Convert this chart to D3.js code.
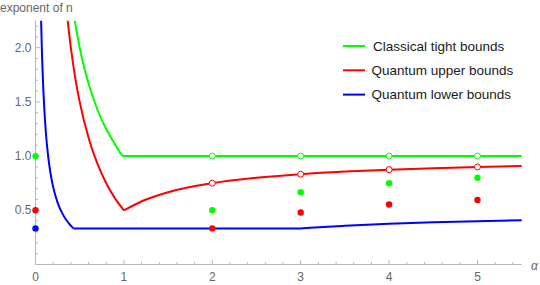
<!DOCTYPE html>
<html lang="en">
<head>
  <meta charset="UTF-8">
  <title>exponent of n</title>
  <script src="https://cdn.jsdelivr.net/npm/d3@7"></script>
  <style>
    body { margin: 0; background: #fff; }
    text { font-family: "Liberation Sans", Arial, sans-serif; }
  </style>
</head>
<body>
  <div id="main" style="width:540px;height:285px"></div>
  <script>
    // data
    var seriesNames = ["Classical tight bounds", "Quantum upper bounds", "Quantum lower bounds"];
    var seriesColors = ["#00ff00", "#ff0000", "#0000ff"];

    var classicalX = [0.444, 0.5, 0.55, 0.6, 0.7, 0.8, 0.9, 1.0, 5.5];
    var classicalY = [2.25, 2.0, 1.82, 1.67, 1.43, 1.25, 1.11, 1.0, 1.0];

    var upperLeftX = [0.364, 0.4, 0.45, 0.5, 0.6, 0.7, 0.8, 0.9, 1.0];
    var upperLeftY = [2.25, 2.0, 1.72, 1.5, 1.17, 0.93, 0.75, 0.61, 0.5];
    var upperRightX = [1.0, 1.25, 1.5, 2.0, 2.5, 3.0, 3.5, 4.0, 4.5, 5.0, 5.5];
    var upperRightY = [0.5, 0.6, 0.667, 0.75, 0.8, 0.833, 0.857, 0.875, 0.889, 0.9, 0.909];

    var lowerLeftX = [0.0635, 0.0714, 0.08, 0.1, 0.12, 0.143, 0.17, 0.2, 0.25, 0.3, 0.35, 0.4286];
    var lowerLeftY = [2.25, 2.0, 1.786, 1.429, 1.19, 1.0, 0.84, 0.714, 0.571, 0.476, 0.408, 0.333];
    var lowerRightX = [0.4286, 3.0, 3.25, 3.5, 4.0, 4.5, 5.0, 5.5];
    var lowerRightY = [0.333, 0.333, 0.346, 0.357, 0.375, 0.389, 0.4, 0.409];

    // filled points
    var classicalDotX = [0, 2, 3, 4, 5];
    var classicalDotY = [1.0, 0.5, 0.667, 0.75, 0.8];
    var upperDotX = [0, 2, 3, 4, 5];
    var upperDotY = [0.5, 0.333, 0.48, 0.553, 0.596];
    var lowerDotX = [0];
    var lowerDotY = [0.333];

    // open points
    var classicalOpenX = [2, 3, 4, 5];
    var classicalOpenY = [1, 1, 1, 1];
    var upperOpenX = [2, 3, 4, 5];
    var upperOpenY = [0.75, 0.833, 0.875, 0.9];

    var xTicks = [0, 1, 2, 3, 4, 5];
    var yTicks = [0.5, 1.0, 1.5, 2.0];

    var width = 540, height = 285;
    var svg = d3.select("#main").append("svg")
      .attr("width", width)
      .attr("height", height);

    var x = d3.scaleLinear().domain([0, 5.5]).range([35.5, 521.7]);
    var y = d3.scaleLinear().domain([0, 2.25]).range([264.5, 20.6]);

    var axisColor = "#b8b8b8";
    var labelColor = "#666";

    // minor ticks
    var xMinor = d3.range(0, 5.5001, 0.2).filter(function (v) { return Math.abs(v - Math.round(v)) > 1e-6; });
    var yMinor = d3.range(0.1, 2.2501, 0.1).filter(function (v) { return Math.abs(v * 2 - Math.round(v * 2)) > 1e-6; });

    var ax = svg.append("g").attr("class", "axes");
    ax.append("line")
      .attr("x1", x(0)).attr("x2", x(5.5))
      .attr("y1", y(0)).attr("y2", y(0))
      .attr("stroke", axisColor);
    ax.append("line")
      .attr("x1", x(0)).attr("x2", x(0))
      .attr("y1", y(0)).attr("y2", y(2.25))
      .attr("stroke", axisColor);

    ax.selectAll(".xmaj").data(xTicks).enter().append("line")
      .attr("x1", function (d) { return x(d); }).attr("x2", function (d) { return x(d); })
      .attr("y1", y(0)).attr("y2", y(0) - 4.5)
      .attr("stroke", axisColor);
    ax.selectAll(".xmin").data(xMinor).enter().append("line")
      .attr("x1", function (d) { return x(d); }).attr("x2", function (d) { return x(d); })
      .attr("y1", y(0)).attr("y2", y(0) - 2.5)
      .attr("stroke", axisColor);
    ax.selectAll(".ymaj").data(yTicks).enter().append("line")
      .attr("x1", x(0)).attr("x2", x(0) + 4.5)
      .attr("y1", function (d) { return y(d); }).attr("y2", function (d) { return y(d); })
      .attr("stroke", axisColor);
    ax.selectAll(".ymin").data(yMinor).enter().append("line")
      .attr("x1", x(0)).attr("x2", x(0) + 2.5)
      .attr("y1", function (d) { return y(d); }).attr("y2", function (d) { return y(d); })
      .attr("stroke", axisColor);

    ax.selectAll(".xlab").data(xTicks).enter().append("text")
      .attr("x", function (d) { return x(d); })
      .attr("y", 281)
      .attr("text-anchor", "middle")
      .attr("font-size", 12)
      .attr("fill", labelColor)
      .text(function (d) { return d; });
    ax.selectAll(".ylab").data(yTicks).enter().append("text")
      .attr("x", x(0) - 4)
      .attr("y", function (d) { return y(d) + 4; })
      .attr("text-anchor", "end")
      .attr("font-size", 12)
      .attr("fill", labelColor)
      .text(function (d) { return d.toFixed(1); });

    svg.append("text")
      .attr("x", 0).attr("y", 12)
      .attr("font-size", 12)
      .attr("fill", labelColor)
      .text("exponent of n");
    svg.append("text")
      .attr("x", 531).attr("y", 270)
      .attr("font-size", 12)
      .attr("font-style", "italic")
      .attr("fill", labelColor)
      .text("α");

    // curves
    svg.append("clipPath").attr("id", "plotClip")
      .append("rect").attr("x", x(0)).attr("y", y(2.25)).attr("width", x(5.5) - x(0) + 1).attr("height", y(0) - y(2.25));

    var line = d3.line()
      .x(function (d) { return x(d[0]); })
      .y(function (d) { return y(d[1]); })
      .curve(d3.curveMonotoneX);

    function pairs(xs, ys) { return xs.map(function (v, i) { return [v, ys[i]]; }); }

    var curves = [
      { pts: pairs(classicalX, classicalY), c: 0 },
      { pts: pairs(upperLeftX, upperLeftY), c: 1 },
      { pts: pairs(upperRightX, upperRightY), c: 1 },
      { pts: pairs(lowerLeftX, lowerLeftY), c: 2 },
      { pts: pairs(lowerRightX, lowerRightY), c: 2 }
    ];

    svg.append("g").attr("clip-path", "url(#plotClip)")
      .selectAll("path").data(curves).enter().append("path")
      .attr("d", function (d) { return line(d.pts); })
      .attr("fill", "none")
      .attr("stroke", function (d) { return seriesColors[d.c]; })
      .attr("stroke-width", 2);

    // dots
    var dots = [];
    classicalDotX.forEach(function (v, i) { dots.push({ x: v, y: classicalDotY[i], c: 0 }); });
    upperDotX.forEach(function (v, i) { dots.push({ x: v, y: upperDotY[i], c: 1 }); });
    lowerDotX.forEach(function (v, i) { dots.push({ x: v, y: lowerDotY[i], c: 2 }); });

    svg.append("g").selectAll("circle").data(dots).enter().append("circle")
      .attr("cx", function (d) { return x(d.x); })
      .attr("cy", function (d) { return y(d.y); })
      .attr("r", 3.2)
      .attr("fill", function (d) { return seriesColors[d.c]; });

    var openPts = [];
    classicalOpenX.forEach(function (v, i) { openPts.push({ x: v, y: classicalOpenY[i], c: 0 }); });
    upperOpenX.forEach(function (v, i) { openPts.push({ x: v, y: upperOpenY[i], c: 1 }); });

    svg.append("g").selectAll("circle").data(openPts).enter().append("circle")
      .attr("cx", function (d) { return x(d.x); })
      .attr("cy", function (d) { return y(d.y); })
      .attr("r", 3)
      .attr("fill", "#fff")
      .attr("stroke", function (d) { return seriesColors[d.c]; })
      .attr("stroke-width", 1);

    // legend
    var legend = svg.append("g").attr("transform", "translate(343,46)");
    var item = legend.selectAll("g").data(seriesNames).enter().append("g")
      .attr("transform", function (d, i) { return "translate(0," + (i * 24.3) + ")"; });
    item.append("line")
      .attr("x1", 0).attr("x2", 22)
      .attr("stroke", function (d, i) { return seriesColors[i]; })
      .attr("stroke-width", 2);
    item.append("text")
      .attr("x", function (d, i) { return i == 0 ? 30 : 28.5; })
      .attr("y", 4.5)
      .attr("font-size", 13.5)
      .attr("fill", "#1a1a1a")
      .text(function (d) { return d; });
  </script>
</body>
</html>
